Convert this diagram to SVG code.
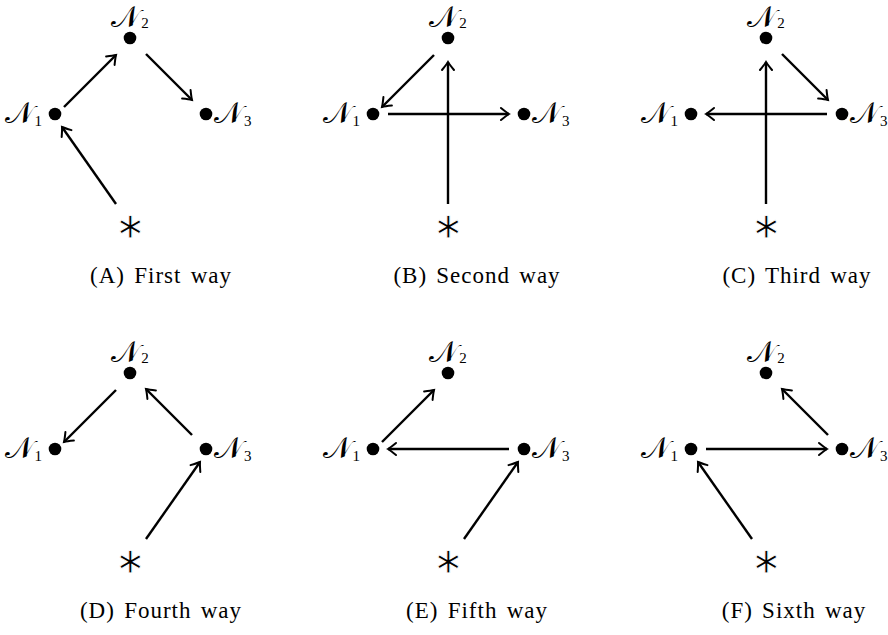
<svg xmlns="http://www.w3.org/2000/svg" width="888" height="635" viewBox="0 0 888 635">
<defs>
<style>
.dot{fill:#000}
.lbl{font-family:"DejaVu Serif","DejaVu Sans","Noto Sans",serif;font-size:30px;fill:#000}
.sub{font-family:"Liberation Serif",serif;font-size:15px}
.ast{font-family:"DejaVu Sans",sans-serif;font-size:36px;fill:#000;stroke:#fff;stroke-width:0.9;text-anchor:middle}
.cap{font-family:"Liberation Serif",serif;font-size:23px;letter-spacing:1px;word-spacing:2.5px;fill:#000;text-anchor:middle}
.e{stroke:#000;stroke-width:2.4;fill:none;marker-end:url(#ah)}
</style>
<marker id="ah" markerUnits="userSpaceOnUse" markerWidth="16" markerHeight="16" viewBox="-12 -8 16 16" refX="0" refY="0" orient="auto">
<path d="M -8 -6 Q -2.5 -1.5 0 0 Q -2.5 1.5 -8 6" stroke="#000" stroke-width="2" fill="none" stroke-linecap="round"/>
</marker>
</defs>
<rect width="888" height="635" fill="#fff"/>

<!-- Panel A -->
<g transform="translate(130,0)">
<g id="a-n2"><circle class="dot" cx="0" cy="38" r="6.3"/><text class="lbl" x="0" y="27" text-anchor="middle">𝒩<tspan class="sub" dx="1" dy="1">2</tspan></text></g>
<g id="a-n1"><circle class="dot" cx="-75" cy="114" r="6.3"/><text class="lbl" x="-88" y="123" text-anchor="end">𝒩<tspan class="sub" dx="1" dy="3">1</tspan></text></g>
<g id="a-n3"><circle class="dot" cx="76" cy="114" r="6.3"/><text class="lbl" x="84" y="123">𝒩<tspan class="sub" dx="1" dy="3">3</tspan></text></g>
<g id="a-star"><text class="ast" x="0" y="238">∗</text></g>
<g id="a-edges">
<line class="e" x1="-66" y1="107" x2="-14" y2="55"/>
<line class="e" x1="16" y1="54" x2="62" y2="100"/>
<line class="e" x1="-14" y1="204" x2="-68" y2="127"/>
</g>
<g id="a-cap"><text class="cap" x="31" y="283">(A) First way</text></g>
</g>

<!-- Panel B -->
<g transform="translate(448,0)">
<g id="b-n2"><circle class="dot" cx="0" cy="38" r="6.3"/><text class="lbl" x="0" y="27" text-anchor="middle">𝒩<tspan class="sub" dx="1" dy="1">2</tspan></text></g>
<g id="b-n1"><circle class="dot" cx="-75" cy="114" r="6.3"/><text class="lbl" x="-88" y="123" text-anchor="end">𝒩<tspan class="sub" dx="1" dy="3">1</tspan></text></g>
<g id="b-n3"><circle class="dot" cx="76" cy="114" r="6.3"/><text class="lbl" x="84" y="123">𝒩<tspan class="sub" dx="1" dy="3">3</tspan></text></g>
<g id="b-star"><text class="ast" x="0" y="238">∗</text></g>
<g id="b-edges">
<line class="e" x1="-60" y1="114" x2="61" y2="114"/>
<line class="e" x1="0" y1="204" x2="0" y2="62"/>
<line class="e" x1="-14" y1="55" x2="-66" y2="107"/>
</g>
<g id="b-cap"><text class="cap" x="29" y="283">(B) Second way</text></g>
</g>

<!-- Panel C -->
<g transform="translate(766,0)">
<g id="c-n2"><circle class="dot" cx="0" cy="38" r="6.3"/><text class="lbl" x="0" y="27" text-anchor="middle">𝒩<tspan class="sub" dx="1" dy="1">2</tspan></text></g>
<g id="c-n1"><circle class="dot" cx="-75" cy="114" r="6.3"/><text class="lbl" x="-88" y="123" text-anchor="end">𝒩<tspan class="sub" dx="1" dy="3">1</tspan></text></g>
<g id="c-n3"><circle class="dot" cx="76" cy="114" r="6.3"/><text class="lbl" x="84" y="123">𝒩<tspan class="sub" dx="1" dy="3">3</tspan></text></g>
<g id="c-star"><text class="ast" x="0" y="238">∗</text></g>
<g id="c-edges">
<line class="e" x1="61" y1="114" x2="-60" y2="114"/>
<line class="e" x1="0" y1="204" x2="0" y2="62"/>
<line class="e" x1="16" y1="54" x2="62" y2="100"/>
</g>
<g id="c-cap"><text class="cap" x="31" y="283">(C) Third way</text></g>
</g>

<!-- Panel D -->
<g transform="translate(130,335)">
<g id="d-n2"><circle class="dot" cx="0" cy="38" r="6.3"/><text class="lbl" x="0" y="27" text-anchor="middle">𝒩<tspan class="sub" dx="1" dy="1">2</tspan></text></g>
<g id="d-n1"><circle class="dot" cx="-75" cy="114" r="6.3"/><text class="lbl" x="-88" y="123" text-anchor="end">𝒩<tspan class="sub" dx="1" dy="3">1</tspan></text></g>
<g id="d-n3"><circle class="dot" cx="76" cy="114" r="6.3"/><text class="lbl" x="84" y="123">𝒩<tspan class="sub" dx="1" dy="3">3</tspan></text></g>
<g id="d-star"><text class="ast" x="0" y="238">∗</text></g>
<g id="d-edges">
<line class="e" x1="-14" y1="55" x2="-66" y2="107"/>
<line class="e" x1="62" y1="100" x2="16" y2="54"/>
<line class="e" x1="16" y1="204" x2="70" y2="127"/>
</g>
<g id="d-cap"><text class="cap" x="31" y="283">(D) Fourth way</text></g>
</g>

<!-- Panel E -->
<g transform="translate(448,335)">
<g id="e-n2"><circle class="dot" cx="0" cy="38" r="6.3"/><text class="lbl" x="0" y="27" text-anchor="middle">𝒩<tspan class="sub" dx="1" dy="1">2</tspan></text></g>
<g id="e-n1"><circle class="dot" cx="-75" cy="114" r="6.3"/><text class="lbl" x="-88" y="123" text-anchor="end">𝒩<tspan class="sub" dx="1" dy="3">1</tspan></text></g>
<g id="e-n3"><circle class="dot" cx="76" cy="114" r="6.3"/><text class="lbl" x="84" y="123">𝒩<tspan class="sub" dx="1" dy="3">3</tspan></text></g>
<g id="e-star"><text class="ast" x="0" y="238">∗</text></g>
<g id="e-edges">
<line class="e" x1="-66" y1="107" x2="-14" y2="55"/>
<line class="e" x1="61" y1="114" x2="-60" y2="114"/>
<line class="e" x1="16" y1="204" x2="70" y2="127"/>
</g>
<g id="e-cap"><text class="cap" x="29" y="283">(E) Fifth way</text></g>
</g>

<!-- Panel F -->
<g transform="translate(766,335)">
<g id="f-n2"><circle class="dot" cx="0" cy="38" r="6.3"/><text class="lbl" x="0" y="27" text-anchor="middle">𝒩<tspan class="sub" dx="1" dy="1">2</tspan></text></g>
<g id="f-n1"><circle class="dot" cx="-75" cy="114" r="6.3"/><text class="lbl" x="-88" y="123" text-anchor="end">𝒩<tspan class="sub" dx="1" dy="3">1</tspan></text></g>
<g id="f-n3"><circle class="dot" cx="76" cy="114" r="6.3"/><text class="lbl" x="84" y="123">𝒩<tspan class="sub" dx="1" dy="3">3</tspan></text></g>
<g id="f-star"><text class="ast" x="0" y="238">∗</text></g>
<g id="f-edges">
<line class="e" x1="-60" y1="114" x2="61" y2="114"/>
<line class="e" x1="62" y1="100" x2="16" y2="54"/>
<line class="e" x1="-14" y1="204" x2="-68" y2="127"/>
</g>
<g id="f-cap"><text class="cap" x="28" y="283">(F) Sixth way</text></g>
</g>
</svg>
